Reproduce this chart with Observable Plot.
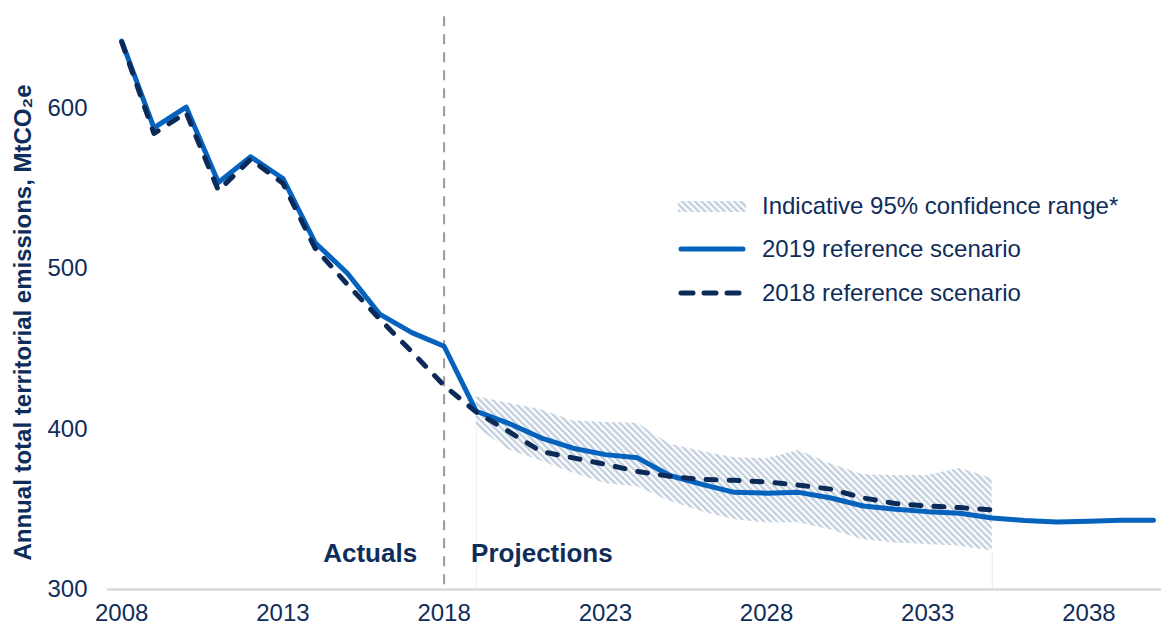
<!DOCTYPE html>
<html>
<head>
<meta charset="utf-8">
<script src="https://cdn.jsdelivr.net/npm/d3@7"></script>
<script src="https://cdn.jsdelivr.net/npm/@observablehq/plot@0.6"></script>
<style>
  html, body { margin: 0; padding: 0; background: #fff; }
  #wrap { position: relative; width: 1161px; height: 627px; font-family: "Liberation Sans", Arial, Helvetica, sans-serif; color: #0f2d5a; }
  #legend { position: absolute; left: 678px; top: 184px; }
  .row { display: flex; align-items: center; height: 43.5px; }
  .row svg { width: 68px; height: 14px; margin-right: 16px; flex: none; }
  .row span { font-size: 24px; line-height: 1; white-space: nowrap; }
</style>
</head>
<body>
<div id="wrap"></div>
<script>
// ---- data ----
const years2019 = d3.range(2008, 2041);
const ref2019 = [641.5, 587.5, 600.5, 553.5, 569.5, 556, 516, 497, 471.5, 460, 451.5,
                 411, 403.5, 394.5, 388, 384, 382, 371, 365.5, 360.5, 360, 360.5, 357,
                 352, 350, 348.5, 347.5, 344.5, 343, 342, 342.5, 343.2, 343.2];
const years2018 = d3.range(2008, 2036);
const ref2018 = [641, 584, 597, 548.5, 568, 553, 512.5, 490, 468.5, 448, 427,
                 410.5, 398.5, 386, 382, 378, 373.5, 370.5, 368.5, 368, 367, 365, 362.5,
                 357, 353.5, 352, 351, 349.5];
const bandYears = d3.range(2019, 2036);
const bandUpper = [420, 416, 412, 405, 404, 403.5, 390.5, 386, 382, 381.5, 386.5, 378, 371.5, 371, 371, 375.5, 369];
const bandLower = [401, 387, 380, 372.5, 366, 364, 355, 348.5, 343.5, 341.5, 341.5, 337, 331, 329, 328, 327, 324];
const xTicks = [2008, 2013, 2018, 2023, 2028, 2033, 2038];
const yTicks = [300, 400, 500, 600];
const splitYear = 2018;
const yTitle = "Annual total territorial emissions, MtCO\u2082e";
const legendLabels = ["Indicative 95% confidence range*", "2019 reference scenario", "2018 reference scenario"];
const annotations = ["Actuals", "Projections"];

// ---- tables ----
const s2019 = years2019.map((y, i) => ({year: y, value: ref2019[i]}));
const s2018 = years2018.map((y, i) => ({year: y, value: ref2018[i]}));
const band = bandYears.map((y, i) => ({year: y, upper: bandUpper[i], lower: bandLower[i]}));
const bandEdges = [band[0], band[band.length - 1]];

const navy = "#0f2d5a";
const blue = "#0563bd";
const dark = "#0b2a57";
const hatch = "#c3d0de";
const yDomain = [300, 660];
const annY = 322.4;

const chart = Plot.plot({
  width: 1161,
  height: 627,
  marginLeft: 107,
  marginRight: 0,
  marginTop: 11,
  marginBottom: 38,
  style: {fontFamily: '"Liberation Sans", Arial, Helvetica, sans-serif', fontSize: "24px", color: navy, background: "#fff"},
  x: {domain: [2007.56, 2040.25]},
  y: {domain: yDomain},
  marks: [
    Plot.ruleX(bandEdges, {x: "year", y1: yDomain[0], y2: "lower", stroke: "#e9edf2", strokeWidth: 1}),
    Plot.areaY(band, {x: "year", y1: "lower", y2: "upper", fill: "url(#hatch)", curve: "linear"}),
    Plot.ruleY([yDomain[0]], {stroke: "#d9d9d9", strokeWidth: 2.5}),
    Plot.ruleX([splitYear], {y1: yDomain[0] + 3, y2: yDomain[1], stroke: "#9a9a9a", strokeWidth: 2, strokeDasharray: "10 8"}),
    Plot.line(s2019, {x: "year", y: "value", stroke: blue, strokeWidth: 5, strokeLinejoin: "round", strokeLinecap: "round"}),
    Plot.line(s2018, {x: "year", y: "value", stroke: dark, strokeWidth: 5, strokeDasharray: "10 13", strokeLinejoin: "round", strokeLinecap: "round"}),
    Plot.text([annotations[0]], {x: () => splitYear, y: () => annY, text: d => d, textAnchor: "end", dx: -27, fontWeight: "bold", fontSize: 26, fill: navy}),
    Plot.text([annotations[1]], {x: () => splitYear, y: () => annY, text: d => d, textAnchor: "start", dx: 27, fontWeight: "bold", fontSize: 26, fill: navy}),
    Plot.axisX({ticks: xTicks, tickFormat: d => String(d), tickSize: 0, tickPadding: 14, label: null, fontSize: 24, fill: navy}),
    Plot.axisY({ticks: yTicks, tickSize: 0, tickPadding: 20, label: null, fontSize: 24, fill: navy}),
    Plot.text([yTitle], {frameAnchor: "left", textAnchor: "middle", text: d => d, rotate: -90, dx: -84, dy: 22, fontWeight: "bold", fontSize: 24, fill: navy})
  ]
});

// hatch pattern
const defs = d3.select(chart).insert("defs", ":first-child");
const pat = defs.append("pattern").attr("id", "hatch").attr("patternUnits", "userSpaceOnUse")
  .attr("width", 4.6).attr("height", 4.6).attr("patternTransform", "rotate(-45)");
pat.append("rect").attr("x", 0).attr("y", 0).attr("width", 2.4).attr("height", 4.6).attr("fill", hatch);

const wrap = document.getElementById("wrap");
wrap.appendChild(chart);

// legend overlay
const legend = document.createElement("div");
legend.id = "legend";
const swatches = [
  `<svg viewBox="0 0 68 14"><defs><pattern id="hatchL" patternUnits="userSpaceOnUse" width="4.6" height="4.6" patternTransform="rotate(-45)"><rect width="2.4" height="4.6" fill="${hatch}"/></pattern></defs><rect x="0" y="2" width="68" height="11" fill="url(#hatchL)"/></svg>`,
  `<svg viewBox="0 0 68 14"><line x1="3" y1="7" x2="65" y2="7" stroke="${blue}" stroke-width="5" stroke-linecap="round"/></svg>`,
  `<svg viewBox="0 0 68 14"><line x1="3" y1="7" x2="65" y2="7" stroke="${dark}" stroke-width="5" stroke-linecap="round" stroke-dasharray="12 11"/></svg>`
];
legend.innerHTML = legendLabels.map((t, i) => `<div class="row">${swatches[i]}<span>${t}</span></div>`).join("");
wrap.appendChild(legend);
</script>
</body>
</html>
